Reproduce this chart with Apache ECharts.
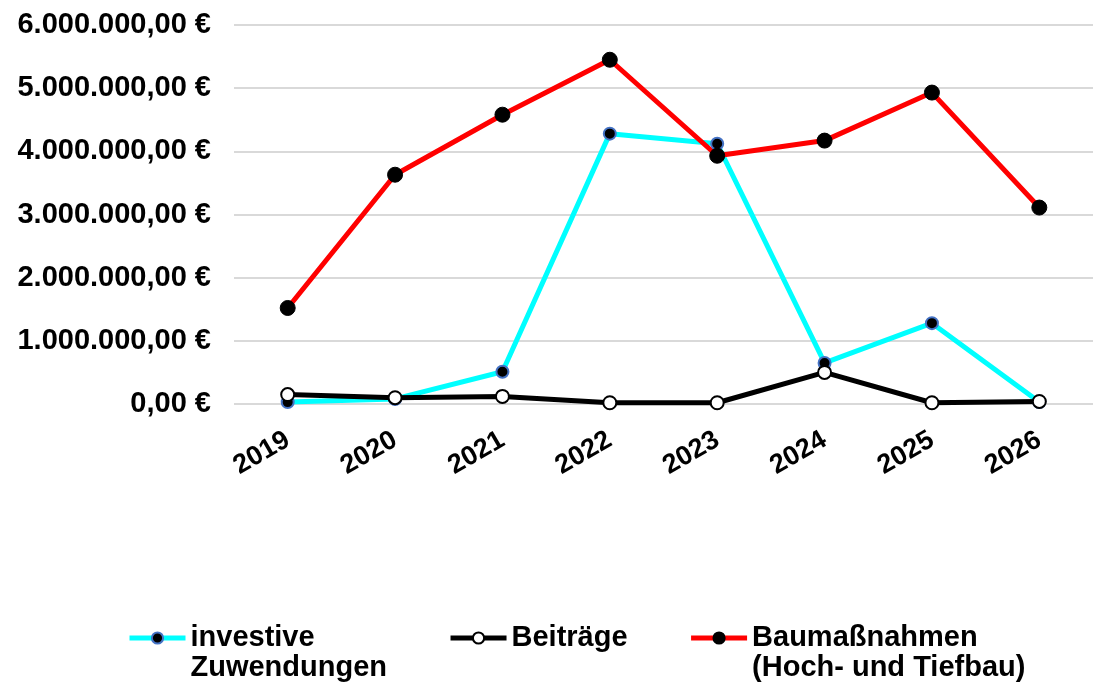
<!DOCTYPE html>
<html>
<head>
<meta charset="utf-8">
<script src="https://cdn.jsdelivr.net/npm/echarts@6/dist/echarts.min.js"></script>
<style>
  html, body { margin: 0; padding: 0; background: #fff; }
  #chart { width: 1093px; height: 684px; }
</style>
</head>
<body>
<div id="chart"></div>
<script>
// Jahre
const years = ['2019', '2020', '2021', '2022', '2023', '2024', '2025', '2026']
// Werte in Euro
const investiveZuwendungen = [30000, 80000, 510000, 4280000, 4120000, 650000, 1280000, 30000]
const beitraege = [150000, 100000, 120000, 20000, 20000, 500000, 20000, 40000]
const baumassnahmen = [1520000, 3630000, 4580000, 5450000, 3930000, 4170000, 4930000, 3110000]
const seriesNames = ['investive\nZuwendungen', 'Beiträge', 'Baumaßnahmen\n(Hoch- und Tiefbau)']

const FONT = '"Liberation Sans", Arial, sans-serif'

// deutsches Zahlenformat: 6.000.000,00 €
function euro(v) {
  const parts = v.toFixed(2).split('.')
  const intPart = parts[0].replace(/\B(?=(\d{3})+(?!\d))/g, '.')
  return intPart + ',' + parts[1] + ' €'
}

const chart = echarts.init(document.getElementById('chart'))

chart.setOption({
  animation: false,
  backgroundColor: '#fff',
  grid: { left: 234, top: 25, width: 867, height: 379 },
  xAxis: {
    type: 'category',
    data: years,
    boundaryGap: true,
    axisLine: { show: false },
    axisTick: { show: false },
    axisLabel: {
      rotate: 30,
      margin: 34,
      color: '#000',
      fontFamily: FONT,
      fontWeight: 'bold',
      fontSize: 27
    }
  },
  yAxis: {
    type: 'value',
    min: 0,
    max: 6000000,
    interval: 1000000,
    axisLine: { show: false },
    axisTick: { show: false },
    splitLine: { lineStyle: { color: '#d9d9d9', width: 2 } },
    axisLabel: {
      margin: 23,
      color: '#000',
      fontFamily: FONT,
      fontWeight: 'bold',
      fontSize: 29,
      formatter: euro
    }
  },
  legend: {
    left: 122,
    top: 588,
    itemWidth: 56,
    itemHeight: 14,
    itemGap: 61,
    lineStyle: { width: 5 },
    // zweizeilige Einträge: erste Zeile auf Höhe des Symbols
    formatter: name => name.indexOf('\n') >= 0 ? '\n' + name : name,
    textStyle: {
      color: '#000',
      fontFamily: FONT,
      fontWeight: 'bold',
      fontSize: 29,
      lineHeight: 30
    },
    data: seriesNames
  },
  series: [
    {
      name: seriesNames[0],
      type: 'line',
      data: investiveZuwendungen,
      symbol: 'circle',
      symbolSize: 12,
      lineStyle: { color: '#00ffff', width: 5 },
      itemStyle: { color: '#000', borderColor: '#4472c4', borderWidth: 2 }
    },
    {
      name: seriesNames[1],
      type: 'line',
      data: beitraege,
      symbol: 'circle',
      symbolSize: 13,
      lineStyle: { color: '#000', width: 5 },
      itemStyle: { color: '#fff', borderColor: '#000', borderWidth: 2 }
    },
    {
      name: seriesNames[2],
      type: 'line',
      data: baumassnahmen,
      symbol: 'circle',
      symbolSize: 15,
      lineStyle: { color: '#ff0000', width: 5 },
      itemStyle: { color: '#000', borderColor: '#000', borderWidth: 1 }
    }
  ]
})
</script>
</body>
</html>
